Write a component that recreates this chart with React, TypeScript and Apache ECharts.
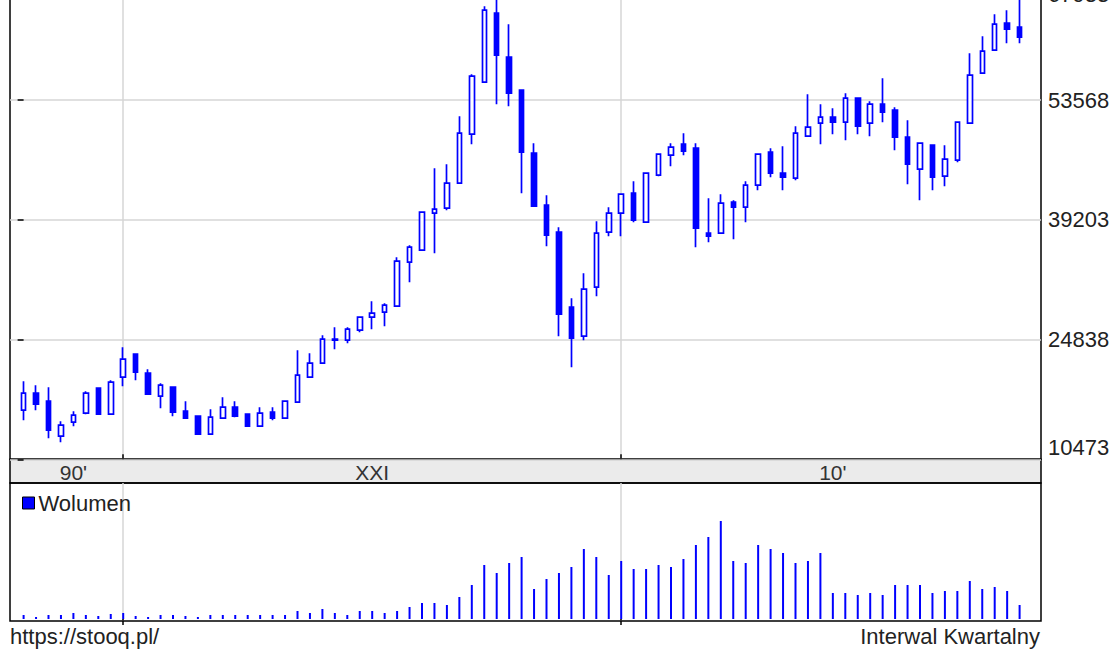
import React, { useEffect, useRef } from 'react';
import * as echarts from 'echarts';

// Quarterly candles, 1998 Q1 .. 2018 Q1 (index 0..80)
const openValues = [
  16368, 18408, 17448, 13248, 14928, 16008, 19008, 15888, 20328, 23088,
  20808, 18048, 19128, 16248, 15648, 13488, 15408, 16728, 15888, 14448,
  16128, 15408, 17328, 20328, 22008, 24768, 24768, 25968, 27528, 28128,
  28848, 34128, 35568, 40008, 40608, 43608, 49488, 55728, 64008, 58728,
  54768, 47208, 40968, 37728, 28728, 25248, 31128, 37728, 40008, 42408,
  38928, 44568, 46968, 48288, 47808, 37608, 37608, 41328, 40728, 43368,
  47328, 44808, 44208, 49248, 50808, 51528, 50928, 53808, 50808, 53088,
  52368, 49128, 45288, 48168, 44448, 46368, 50808, 56808, 59568, 62808, 62328,
];
const closeValues = [
  18408, 17088, 13968, 14568, 15768, 18408, 15888, 19728, 22488, 20928,
  18288, 19368, 16128, 15408, 13488, 15528, 16728, 15648, 14448, 16008,
  15408, 17448, 20568, 22008, 24888, 24888, 26088, 27528, 28008, 28968,
  34248, 35928, 40128, 40488, 43608, 49608, 56448, 64368, 58968, 54408,
  47328, 40848, 37368, 27888, 25008, 30888, 37608, 40008, 42288, 39168,
  44808, 47088, 47928, 47448, 38208, 37248, 41208, 40728, 43368, 47088,
  44808, 44328, 49608, 50328, 51528, 50928, 53808, 50448, 53088, 52128,
  49128, 45888, 48408, 44328, 46488, 50928, 56568, 59448, 62688, 62088, 61128,
];
const lowValues = [
  15168, 16368, 13008, 12528, 14448, 15888, 15888, 15888, 19248, 19968,
  18288, 16608, 15648, 15408, 13488, 13488, 15408, 15528, 14448, 14448,
  15168, 15408, 17328, 20328, 22008, 23688, 24408, 25728, 26088, 26448,
  28848, 31728, 35568, 35208, 40368, 43608, 48288, 55728, 53088, 52848,
  42408, 40848, 36048, 25248, 21528, 24768, 30048, 37248, 37248, 38928,
  38928, 44448, 45648, 46968, 35928, 36528, 37608, 36888, 38928, 42768,
  44328, 42768, 43968, 49248, 48288, 49488, 48768, 49488, 49248, 50928,
  47568, 43488, 41568, 42768, 43248, 46128, 50808, 56808, 59568, 60408, 60408,
];
const highValues = [
  19848, 19368, 19128, 15048, 16248, 18648, 19128, 19968, 23928, 23088,
  21288, 19608, 19248, 17448, 15768, 16488, 17928, 17448, 16008, 16728,
  16728, 17448, 23568, 23208, 25368, 26328, 26328, 27648, 29448, 29208,
  34728, 36168, 40248, 45408, 45888, 51648, 56688, 64848, 66288, 62688,
  54888, 48408, 42168, 38328, 29808, 32808, 39048, 40728, 42408, 43848,
  44808, 47208, 48408, 49608, 48408, 41808, 42288, 41568, 43848, 47208,
  47808, 48048, 50448, 54288, 53088, 52608, 54408, 53808, 53448, 56208,
  52728, 51168, 48408, 48168, 48168, 51048, 59208, 61248, 63888, 64368, 66528,
];
// Volume (relative units, no scale shown on the chart)
const volumeValues = [
  4, 2, 4, 4, 6, 4, 3, 5, 6, 3,
  2, 4, 4, 3, 2, 4, 4, 4, 4, 4,
  4, 4, 8, 6, 10, 6, 4, 8, 8, 6,
  8, 12, 16, 16, 14, 22, 34, 54, 46, 56,
  62, 30, 40, 46, 52, 70, 62, 44, 58, 50,
  50, 54, 52, 60, 74, 82, 98, 58, 56, 74,
  70, 66, 56, 58, 66, 26, 26, 24, 26, 24,
  34, 34, 34, 26, 28, 28, 38, 30, 32, 28, 14,
];

const decadeLabels = ["90'", 'XXI', "10'"];
const decadeLabelPositions = [4, 28, 65];
const decadeBoundaries = [8, 48]; // 2000 Q1, 2010 Q1

const priceMin = 10473;
const priceStep = 14365;
const priceMax = 67933;

const FONT = "'Liberation Sans', Arial, sans-serif";
const BLUE = '#0000ff';
const GRID_GRAY = '#d6d6d6';

export default function App() {
  const ref = useRef<HTMLDivElement>(null);

  useEffect(() => {
    if (!ref.current) return;
    const chart = echarts.init(ref.current, null, { renderer: 'svg' });
    const OFF = 40; // container is shifted up by this amount
    const X0 = 23.6;
    const STEP = 12.45;
    const PLOT_L = 10;
    const PLOT_R = 1041;
    const xMin = (PLOT_L - X0) / STEP;
    const xMax = (PLOT_R - X0) / STEP;

    const candleData = openValues.map((o, i) => [i, o, closeValues[i], lowValues[i], highValues[i]]);
    const volumeData = volumeValues.map((v, i) => [i, v]);

    const option: any = {
      animation: false,
      backgroundColor: '#ffffff',
      textStyle: { fontFamily: FONT },
      grid: [
        {
          left: PLOT_L, top: OFF - 19.5, width: PLOT_R - PLOT_L, height: 478.75,
          show: true, borderColor: '#000', borderWidth: 1.5, backgroundColor: 'transparent',
        },
        {
          left: PLOT_L, top: OFF + 483, width: PLOT_R - PLOT_L, height: 138,
          show: true, borderColor: '#000', borderWidth: 1.5, backgroundColor: 'transparent',
        },
      ],
      xAxis: [
        {
          type: 'value', gridIndex: 0, min: xMin, max: xMax, position: 'bottom',
          axisLine: { show: false },
          axisTick: {
            show: true, inside: true, length: 5, customValues: decadeBoundaries,
            lineStyle: { color: '#000', width: 1.5 },
          },
          axisLabel: {
            show: true, customValues: decadeLabelPositions,
            formatter: (v: number) => decadeLabels[decadeLabelPositions.indexOf(Math.round(v))] ?? '',
            margin: 3, fontSize: 21, color: '#333', fontFamily: FONT, verticalAlign: 'top',
          },
          splitLine: { show: true, lineStyle: { color: GRID_GRAY, width: 1.5 } },
        },
        {
          type: 'value', gridIndex: 1, min: xMin, max: xMax, position: 'top',
          axisLine: { show: false },
          axisTick: {
            show: true, inside: true, length: 6, customValues: decadeBoundaries,
            lineStyle: { color: '#000', width: 1.5 },
          },
          axisLabel: { show: false },
          splitLine: { show: true, lineStyle: { color: GRID_GRAY, width: 1.5 } },
        },
      ],
      yAxis: [
        {
          type: 'value', gridIndex: 0, position: 'right',
          min: priceMin, max: priceMax, interval: priceStep,
          axisLine: { show: false },
          axisTick: { show: true, inside: true, length: 6, lineStyle: { color: '#000', width: 1.5 } },
          axisLabel: {
            margin: 7, fontSize: 22, color: '#222', fontFamily: FONT,
            formatter: (v: number) => {
              if (Math.abs(v - priceMin) < 1) return `{lo|${Math.round(v)}}`;
              if (Math.abs(v - priceMax) < 1) return `{hi|${Math.round(v)}}`;
              return `${Math.round(v)}`;
            },
            rich: {
              lo: { padding: [0, 0, 24, 0], fontSize: 22, color: '#222', fontFamily: FONT },
              hi: { padding: [28, 0, 0, 0], fontSize: 22, color: '#222', fontFamily: FONT },
            },
          },
          splitLine: { show: true, lineStyle: { color: GRID_GRAY, width: 1.5 } },
        },
        {
          type: 'value', gridIndex: 1, min: -2, max: 136, show: false,
          splitLine: { show: false },
        },
      ],
      legend: {
        data: ['Wolumen'], left: 17, top: OFF + 487, icon: 'rect',
        itemWidth: 12, itemHeight: 12, itemGap: 10, selectedMode: false,
        itemStyle: { borderColor: '#000', borderWidth: 1 },
        textStyle: { fontSize: 22, color: '#222', fontFamily: FONT, padding: [0, 0, 0, -1] },
      },
      graphic: [
        {
          type: 'rect', z: -10, silent: true,
          shape: { x: PLOT_L, y: OFF + 459.25, width: PLOT_R - PLOT_L, height: 23.75 },
          style: { fill: '#ebebeb', stroke: '#000', lineWidth: 1.5 },
        },
        {
          type: 'text', x: 10, y: OFF + 636, silent: true,
          style: { text: 'https://stooq.pl/', font: `22px ${FONT}`, fill: '#222', align: 'left', verticalAlign: 'middle' },
        },
        {
          type: 'text', x: 1040, y: OFF + 636, silent: true,
          style: { text: 'Interwal Kwartalny', font: `22px ${FONT}`, fill: '#222', align: 'right', verticalAlign: 'middle' },
        },
      ],
      series: [
        {
          type: 'candlestick', name: 'Kurs', xAxisIndex: 0, yAxisIndex: 0,
          data: candleData, barWidth: 5,
          itemStyle: {
            color: '#ffffff', color0: BLUE, borderColor: BLUE, borderColor0: BLUE, borderWidth: 1.7,
          },
        },
        {
          type: 'bar', name: 'Wolumen', xAxisIndex: 1, yAxisIndex: 1,
          data: volumeData, barWidth: 2,
          itemStyle: { color: BLUE },
        },
      ],
    };

    chart.setOption(option);
    return () => chart.dispose();
  }, []);

  return (
    <div
      ref={ref}
      style={{ position: 'fixed', left: 0, top: -40, width: 1116, height: 689, background: '#fff' }}
    />
  );
}
